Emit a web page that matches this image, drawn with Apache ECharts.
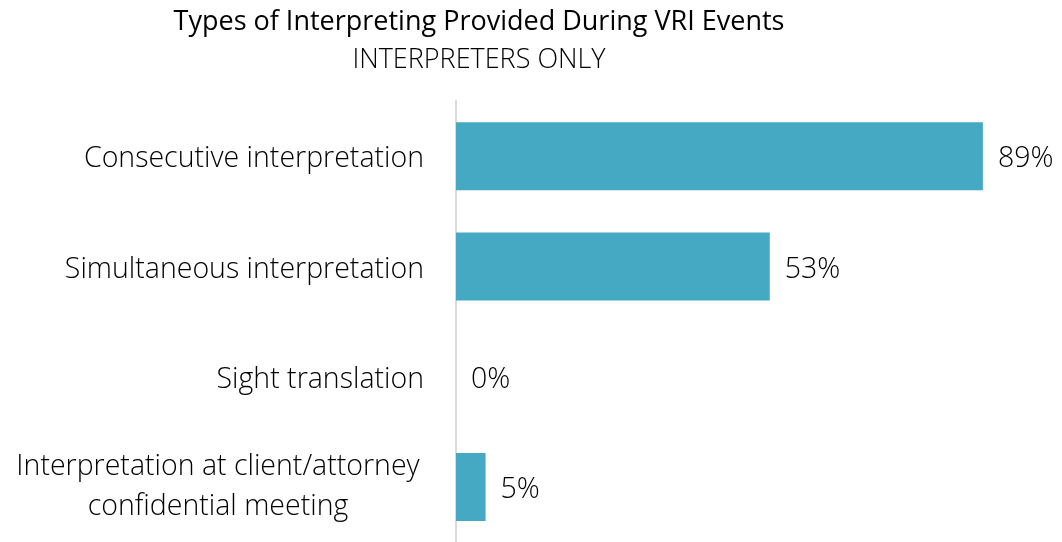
<!DOCTYPE html>
<html>
<head>
<meta charset="utf-8">
<script src="https://cdn.jsdelivr.net/npm/echarts@6/dist/echarts.min.js"></script>
<style>
html, body { margin: 0; padding: 0; background: #fff; }
#main { width: 1062px; height: 542px; }
</style>
</head>
<body>
<div id="main"></div>
<script>
// data
var categories = [
    'Consecutive interpretation',
    'Simultaneous interpretation',
    'Sight translation',
    'Interpretation at client/attorney\nconfidential meeting'
];
var percents = [89, 53, 0, 5];

var myChart = echarts.init(document.getElementById('main'));

var font = '"Open Sans", "DejaVu Sans", sans-serif';

// the two-line label is centred on itself in the original
var catData = categories.map(function (c) {
    if (c.indexOf('\n') < 0) return c;
    return { value: c, textStyle: { align: 'center', verticalAlign: 'middle', lineHeight: 40, padding: [0, 412, 0, 0] } };
});

var option = {
    backgroundColor: '#fff',
    animation: false,
    title: {
        text: 'Types of Interpreting Provided During VRI Events',
        subtext: 'INTERPRETERS ONLY',
        left: 474,
        textAlign: 'center',
        top: 4,
        itemGap: 11,
        textStyle: { fontFamily: font, fontSize: 27, fontWeight: 400, color: '#000' },
        subtextStyle: { fontFamily: font, fontSize: 27, fontWeight: 300, color: '#000' }
    },
    grid: { left: 456, right: 14, top: 101, bottom: -3, containLabel: false },
    xAxis: {
        type: 'value',
        min: 0,
        max: 100,
        show: false
    },
    yAxis: {
        type: 'category',
        data: catData,
        inverse: true,
        axisLine: { show: true, lineStyle: { color: '#d9d9d9', width: 2 } },
        axisTick: { show: false },
        axisLabel: {
            margin: 32,
            fontFamily: font,
            fontSize: 28.5,
            fontWeight: 300,
            color: '#000',
            verticalAlign: 'top',
            lineHeight: 6,
            align: 'right'
        }
    },
    series: [{
        type: 'bar',
        data: percents,
        barWidth: 68,
        itemStyle: { color: '#45a9c3' },
        label: {
            show: true,
            position: 'right',
            distance: 15,
            formatter: '{c}%',
            fontFamily: font,
            fontSize: 28.5,
            fontWeight: 300,
            verticalAlign: 'top',
            lineHeight: 6,
            color: '#000'
        }
    }]
};
myChart.setOption(option);
</script>
</body>
</html>
